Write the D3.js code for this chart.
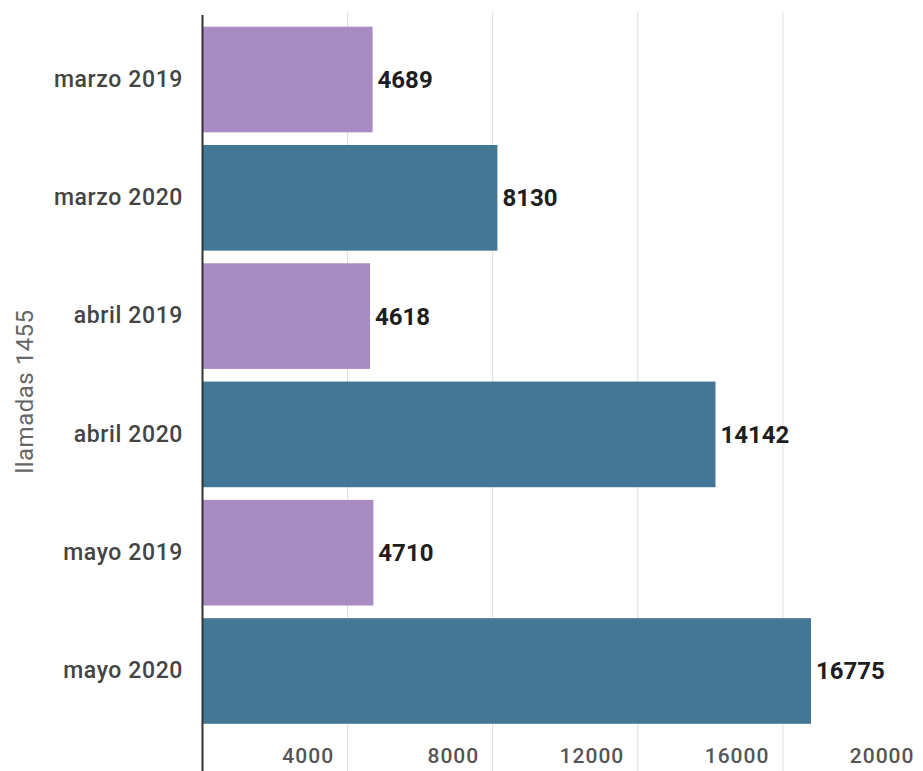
<!DOCTYPE html>
<html>
<head>
<meta charset="utf-8">
<script src="https://cdn.jsdelivr.net/npm/d3@7"></script>
<style>
  html, body { margin: 0; padding: 0; background: #fff; }
  svg { display: block; font-family: Roboto, "Noto Sans", sans-serif; }
</style>
</head>
<body>
<svg id="chart" width="923" height="771"></svg>
<script>
// Llamadas a la línea 1455 por mes, 2019 frente a 2020
const categories = ["marzo 2019", "marzo 2020", "abril 2019", "abril 2020", "mayo 2019", "mayo 2020"];
const values = [4689, 8130, 4618, 14142, 4710, 16775];
const years = ["2019", "2020", "2019", "2020", "2019", "2020"];
const tickValues = [4000, 8000, 12000, 16000, 20000];
const yearColors = { "2019": "#a98bc4", "2020": "#427896" };

const svg = d3.select("#chart");
const left = 202.5, right = 928;

const x = d3.scaleLinear().domain([0, 20000]).range([left, right]);
const y = d3.scaleBand().domain(categories).range([26.7, 723.8]).paddingInner(0.107).paddingOuter(0);

// Vertical gridlines
svg.append("g")
  .selectAll("line")
  .data(tickValues)
  .join("line")
  .attr("x1", d => x(d)).attr("x2", d => x(d))
  .attr("y1", 12).attr("y2", 771)
  .attr("stroke", "#dcdcdc").attr("stroke-width", 1);

// Bars
svg.append("g")
  .selectAll("rect")
  .data(categories)
  .join("rect")
  .attr("x", x(0))
  .attr("y", d => y(d))
  .attr("width", (d, i) => x(values[i]) - x(0))
  .attr("height", y.bandwidth())
  .attr("fill", (d, i) => yearColors[years[i]]);

// Value labels
svg.append("g")
  .selectAll("text")
  .data(categories)
  .join("text")
  .attr("x", (d, i) => x(values[i]) + 5)
  .attr("y", d => y(d) + y.bandwidth() / 2)
  .attr("dy", "0.35em")
  .attr("font-size", 24)
  .attr("font-weight", 700)
  .attr("fill", "#1e1e1e")
  .text((d, i) => values[i]);

// X axis tick labels, right-aligned left of each gridline
const xAxis = d3.axisBottom(x).tickValues(tickValues).tickSize(0).tickFormat(d3.format("d"));
const gx = svg.append("g").attr("transform", "translate(0,763)").call(xAxis);
gx.select(".domain").remove();
gx.selectAll("text")
  .attr("text-anchor", "end")
  .attr("x", -14)
  .attr("y", 0)
  .attr("dy", 0)
  .attr("font-size", 21)
  .attr("letter-spacing", 1)
  .attr("font-weight", 500)
  .attr("font-family", "Roboto, sans-serif")
  .attr("fill", "#555");

// Y axis: category labels
const yAxis = d3.axisLeft(y).tickSize(0).tickPadding(19.5);
const gy = svg.append("g").attr("transform", `translate(${x(0)},0)`).call(yAxis);
gy.select(".domain").remove();
gy.selectAll("text")
  .attr("font-size", 23)
  .attr("letter-spacing", 0.6)
  .attr("font-weight", 500)
  .attr("font-family", "Roboto, sans-serif")
  .attr("fill", "#444");

// Axis baseline
svg.append("line")
  .attr("x1", x(0)).attr("x2", x(0))
  .attr("y1", 15).attr("y2", 771)
  .attr("stroke", "#333").attr("stroke-width", 2);

// Axis title
svg.append("text")
  .attr("transform", "translate(33,391.5) rotate(-90)")
  .attr("text-anchor", "middle")
  .attr("font-size", 24)
  .attr("letter-spacing", 0.5)
  .attr("fill", "#666")
  .text("llamadas 1455");
</script>
</body>
</html>
